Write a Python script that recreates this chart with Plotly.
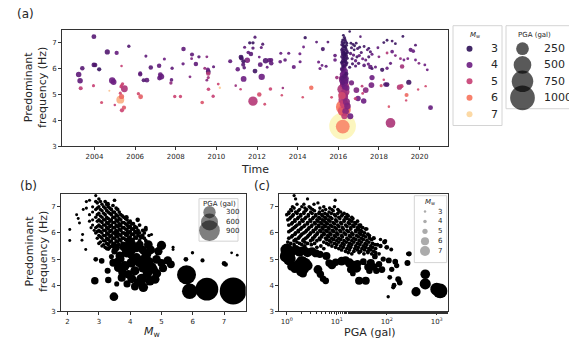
import numpy as np
import plotly.graph_objects as go

W, H = 569, 345

# ---------------- Panel (a): (time, frequency Hz, Mw, PGA gal) ----------------
a_before_2016 = [
    (2003.22, 5.77, 3.8, 40), (2003.29, 5.53, 3.8, 40), (2003.32, 5.24, 4.9, 20), (2003.40, 6.01, 3.7, 25),
    (2003.95, 5.34, 5.0, 10), (2003.97, 7.23, 3.7, 30), (2003.97, 6.14, 3.6, 30), (2004.03, 6.14, 3.5, 25),
    (2004.23, 5.97, 3.2, 22), (2004.35, 4.69, 5.2, 10), (2004.63, 6.64, 3.6, 35), (2004.73, 5.14, 6.8, 3),
    (2004.87, 5.54, 4.0, 55), (2004.94, 5.48, 4.0, 45), (2005.00, 4.59, 5.0, 6), (2005.09, 6.60, 3.9, 22),
    (2005.27, 5.05, 5.2, 10), (2005.27, 4.80, 6.6, 90), (2005.30, 5.30, 5.0, 10), (2005.33, 6.10, 5.0, 6),
    (2005.33, 4.92, 5.8, 35), (2005.33, 5.35, 5.1, 8), (2005.35, 4.39, 5.1, 22), (2005.38, 5.41, 5.1, 12),
    (2005.45, 4.49, 5.5, 22), (2005.47, 5.22, 4.7, 65), (2005.69, 6.86, 3.6, 12), (2006.16, 5.03, 5.2, 12),
    (2006.25, 5.77, 3.7, 22), (2006.25, 5.82, 3.8, 18), (2006.27, 4.91, 5.6, 30), (2006.42, 5.55, 3.6, 20),
    (2006.53, 6.48, 3.8, 10), (2006.58, 5.55, 3.8, 28), (2006.77, 6.04, 3.7, 25), (2007.18, 6.11, 3.8, 25),
    (2007.24, 5.76, 3.9, 30), (2007.29, 5.69, 3.9, 45), (2007.20, 5.63, 3.9, 30), (2007.44, 6.37, 4.0, 10),
    (2007.76, 5.44, 4.4, 12), (2007.79, 5.56, 3.8, 15), (2007.82, 6.01, 3.8, 12), (2007.95, 4.92, 5.1, 12),
    (2008.23, 4.92, 5.1, 12), (2008.36, 6.18, 3.9, 12), (2008.38, 6.75, 3.8, 25), (2008.70, 5.68, 4.2, 8),
    (2008.80, 6.54, 3.8, 20), (2008.78, 6.38, 4.2, 8), (2008.99, 6.17, 3.8, 25), (2009.14, 6.45, 3.7, 12),
    (2009.30, 4.69, 5.4, 15), (2009.43, 6.01, 4.5, 10), (2009.53, 6.45, 4.3, 8), (2009.53, 5.55, 4.3, 8),
    (2009.58, 5.96, 4.0, 20), (2009.60, 5.88, 3.2, 30), (2009.60, 5.81, 4.8, 25), (2009.60, 5.65, 4.6, 10),
    (2009.61, 5.20, 5.0, 15), (2009.84, 4.93, 5.0, 12), (2009.86, 6.07, 3.8, 10), (2010.09, 5.40, 5.1, 8),
    (2010.17, 5.26, 6.9, 5), (2010.68, 6.28, 3.8, 20), (2010.95, 5.34, 4.5, 6), (2011.05, 5.97, 3.9, 25),
    (2011.19, 5.20, 5.0, 6), (2011.21, 6.44, 3.3, 30), (2011.23, 6.40, 3.3, 25), (2011.32, 6.15, 3.7, 20),
    (2011.33, 6.28, 3.3, 22), (2011.34, 5.60, 4.0, 45), (2011.37, 6.03, 3.7, 15), (2011.39, 6.82, 3.8, 10),
    (2011.52, 6.32, 4.2, 40), (2011.57, 6.62, 3.8, 15), (2011.64, 6.99, 3.2, 12), (2011.70, 6.56, 3.7, 25),
    (2011.80, 6.99, 3.2, 12), (2011.80, 6.79, 3.7, 12), (2011.80, 4.74, 4.8, 130), (2011.90, 7.21, 3.6, 10),
    (2011.90, 5.90, 3.3, 30), (2012.11, 6.44, 4.0, 8), (2012.11, 5.00, 5.3, 25), (2012.16, 6.15, 3.8, 30),
    (2012.21, 6.81, 3.8, 10), (2012.23, 5.68, 4.0, 55), (2012.28, 6.94, 3.5, 10), (2012.38, 4.62, 5.2, 8),
    (2012.42, 6.30, 3.6, 40), (2012.50, 6.05, 3.9, 8), (2012.60, 6.32, 3.8, 25), (2012.66, 5.21, 5.1, 15),
    (2012.70, 6.33, 3.8, 20), (2012.70, 6.20, 3.8, 25), (2013.14, 6.26, 3.9, 15), (2013.17, 6.59, 3.9, 10),
    (2013.22, 4.97, 5.2, 6), (2013.27, 5.25, 4.5, 6), (2013.38, 6.33, 3.8, 15), (2013.56, 6.59, 3.9, 10),
    (2013.81, 6.06, 3.9, 20), (2014.11, 6.57, 4.0, 10), (2014.12, 6.26, 3.9, 10), (2014.25, 4.89, 5.3, 6),
    (2014.29, 6.83, 4.0, 8), (2014.37, 7.19, 3.2, 12), (2014.67, 5.26, 5.9, 25), (2014.93, 7.02, 3.7, 8),
    (2015.03, 6.25, 4.0, 10), (2015.10, 6.00, 4.0, 10), (2015.20, 6.12, 3.9, 8), (2015.24, 6.75, 3.4, 20),
    (2015.49, 7.02, 3.7, 8), (2015.40, 6.09, 3.8, 10), (2015.67, 4.89, 5.2, 8), (2015.84, 6.50, 3.8, 15),
    (2015.84, 6.33, 3.9, 15), (2015.93, 5.65, 4.5, 15),
]

a_cluster_2016 = [
    (2016.56, 7.43, 3.1, 6), (2016.30, 7.20, 3.2, 10), (2016.22, 7.10, 3.1, 10), (2016.35, 7.05, 3.2, 12),
    (2016.27, 6.98, 3.0, 10), (2016.18, 6.92, 3.3, 12), (2016.40, 6.90, 3.1, 10), (2016.30, 6.85, 3.2, 14),
    (2016.22, 6.78, 3.3, 12), (2016.38, 6.75, 3.1, 10), (2016.28, 6.70, 3.2, 14), (2016.20, 6.64, 3.4, 14),
    (2016.45, 6.62, 3.1, 10), (2016.33, 6.58, 3.3, 15), (2016.25, 6.52, 3.2, 14), (2016.40, 6.48, 3.4, 12),
    (2016.18, 6.45, 3.3, 14), (2016.30, 6.40, 3.5, 16), (2016.36, 6.34, 3.3, 14), (2016.22, 6.30, 3.4, 16),
    (2016.28, 6.25, 3.6, 18), (2016.42, 6.22, 3.2, 12), (2016.20, 6.18, 3.5, 16), (2016.32, 6.12, 3.6, 18),
    (2016.26, 6.06, 3.7, 20), (2016.25, 7.28, 3.0, 8), (2016.33, 7.12, 3.1, 8), (2016.19, 7.02, 3.2, 10),
    (2016.42, 6.98, 3.0, 8), (2016.24, 6.88, 3.1, 12), (2016.35, 6.82, 3.0, 10), (2016.17, 6.72, 3.2, 12),
    (2016.42, 6.68, 3.3, 12), (2016.27, 6.62, 3.1, 12), (2016.38, 6.55, 3.0, 10), (2016.21, 6.56, 3.2, 12),
    (2016.31, 6.47, 3.1, 12), (2016.24, 6.38, 3.2, 14), (2016.44, 6.40, 3.1, 10), (2016.34, 6.27, 3.2, 14),
    (2016.17, 6.24, 3.1, 12), (2016.38, 6.15, 3.3, 14), (2016.23, 6.10, 3.2, 14),
    (2016.30, 6.00, 3.8, 25), (2016.22, 5.94, 3.7, 30), (2016.36, 5.90, 3.9, 30), (2016.27, 5.84, 3.8, 35),
    (2016.20, 5.78, 4.0, 35), (2016.33, 5.74, 3.9, 40), (2016.25, 5.68, 4.0, 45), (2016.40, 5.62, 3.8, 30),
    (2016.28, 5.58, 4.1, 50), (2016.20, 5.52, 4.0, 45), (2016.35, 5.46, 4.1, 40), (2016.25, 5.40, 4.2, 55),
    (2016.32, 5.30, 4.0, 45), (2016.42, 5.25, 4.1, 40), (2016.18, 5.98, 3.5, 20), (2016.40, 5.80, 3.4, 20),
    (2016.30, 5.70, 3.6, 25), (2016.18, 5.62, 3.7, 30), (2016.38, 5.52, 3.9, 35), (2016.22, 5.45, 3.8, 30),
    (2016.22, 5.60, 4.6, 90), (2016.30, 5.35, 4.8, 120), (2016.20, 5.20, 4.7, 150), (2016.35, 5.10, 4.6, 100),
    (2016.25, 5.00, 4.9, 130), (2016.30, 4.90, 4.5, 80), (2016.22, 4.80, 4.8, 110), (2016.40, 4.72, 4.3, 70),
    (2016.28, 4.62, 5.0, 100), (2016.36, 4.35, 4.3, 60), (2016.30, 4.16, 4.9, 50), (2016.59, 4.16, 4.0, 50),
    (2016.45, 4.55, 4.2, 60), (2016.18, 4.95, 5.2, 80),
    (2016.24, 4.52, 6.0, 330), (2016.30, 4.40, 5.9, 250), (2016.20, 4.35, 5.5, 120),
    (2016.21, 3.78, 7.3, 1170), (2016.22, 3.76, 6.2, 300),
]

a_after_2016 = [
    (2016.62, 6.98, 3.1, 8), (2016.72, 6.93, 3.2, 8), (2016.80, 6.88, 3.0, 8), (2016.88, 6.98, 3.2, 8),
    (2016.65, 6.80, 3.3, 10), (2016.78, 6.72, 3.1, 8), (2016.95, 6.77, 3.4, 10), (2017.05, 6.82, 3.2, 8),
    (2017.13, 6.62, 3.5, 10), (2016.60, 6.58, 3.6, 12), (2016.75, 6.52, 3.8, 12), (2016.92, 6.45, 3.3, 10),
    (2017.03, 6.50, 3.9, 12), (2016.68, 6.38, 3.5, 10), (2016.85, 6.30, 3.8, 12), (2017.20, 6.38, 4.0, 10),
    (2017.35, 6.33, 3.8, 10), (2017.50, 6.45, 3.4, 10), (2017.58, 6.65, 3.6, 10), (2017.66, 6.55, 3.9, 10),
    (2017.50, 6.78, 3.2, 8), (2017.27, 6.85, 3.3, 8), (2017.43, 6.72, 3.7, 8), (2017.00, 6.20, 3.5, 12),
    (2017.27, 6.12, 3.7, 15), (2017.48, 6.17, 3.9, 12), (2017.58, 6.06, 3.8, 25), (2017.66, 6.00, 3.4, 10),
    (2016.85, 6.10, 3.6, 10), (2016.70, 6.18, 3.3, 10), (2016.56, 6.05, 3.2, 10), (2017.09, 7.23, 3.6, 6),
    (2016.89, 5.17, 4.2, 45), (2016.97, 4.84, 4.0, 40), (2017.25, 4.75, 4.0, 40), (2017.35, 5.17, 4.3, 45),
    (2017.63, 5.36, 4.1, 45), (2017.66, 5.65, 4.0, 35), (2017.20, 5.04, 5.0, 8), (2017.17, 5.32, 4.9, 8),
    (2016.84, 4.84, 5.0, 12), (2016.65, 5.45, 4.1, 35), (2017.83, 6.06, 3.9, 10),
    (2018.24, 7.00, 3.2, 8), (2018.40, 7.09, 3.2, 8), (2018.65, 7.06, 3.4, 8), (2018.81, 6.96, 3.2, 8),
    (2019.18, 7.24, 3.2, 8), (2018.65, 6.65, 3.9, 15), (2018.40, 6.60, 4.8, 8), (2018.81, 6.50, 4.2, 8),
    (2019.06, 6.38, 4.4, 8), (2019.23, 6.33, 4.0, 8), (2019.42, 6.38, 4.1, 8), (2019.56, 6.72, 3.8, 20),
    (2019.69, 6.67, 3.9, 15), (2019.80, 6.33, 4.0, 8), (2019.97, 6.20, 4.2, 8), (2020.26, 6.14, 4.0, 8),
    (2020.38, 5.95, 4.0, 8), (2019.14, 6.08, 4.6, 25), (2018.57, 6.20, 3.8, 10), (2018.40, 6.01, 3.9, 12),
    (2018.16, 5.95, 3.3, 22), (2018.24, 5.57, 5.1, 6), (2018.32, 5.38, 3.6, 25), (2018.40, 5.38, 3.4, 30),
    (2019.01, 5.28, 4.8, 35), (2019.11, 5.32, 5.0, 20), (2019.47, 5.47, 3.3, 35), (2019.36, 4.98, 5.8, 20),
    (2018.11, 5.34, 5.3, 10), (2018.49, 4.53, 5.4, 6), (2019.34, 4.77, 5.2, 5), (2019.93, 5.19, 5.2, 5),
    (2020.30, 5.32, 5.2, 5), (2020.54, 4.49, 3.9, 30), (2018.57, 3.90, 4.7, 140), (2017.95, 6.80, 3.8, 8),
    (2018.00, 6.45, 4.2, 8), (2019.80, 6.90, 3.6, 8),
]

# ---------------- Panel (b): (Mw, frequency Hz, PGA gal) ----------------
b_small = [
    (2.07, 6.13, 10), (2.07, 5.71, 10), (2.29, 6.70, 10), (2.34, 6.55, 10), (2.38, 6.38, 10), (2.48, 5.94, 10),
    (2.46, 5.72, 10), (2.58, 5.37, 10), (2.50, 6.90, 10), (2.60, 7.20, 12), (2.60, 6.95, 12), (2.70, 7.25, 12),
    (2.70, 6.70, 12), (2.70, 6.45, 12), (2.75, 6.20, 12), (2.80, 7.00, 12), (2.80, 6.80, 12), (2.80, 6.50, 12),
    (2.80, 6.30, 12), (2.85, 6.10, 12), (2.90, 7.43, 12), (2.90, 7.20, 16), (2.90, 6.90, 16), (2.90, 6.60, 16),
    (2.90, 6.20, 16), (2.90, 6.00, 16), (2.95, 5.80, 16), (3.00, 7.30, 16), (3.00, 7.00, 16), (3.00, 6.75, 16),
    (3.00, 6.50, 16), (3.00, 6.30, 16), (3.00, 6.10, 16), (3.00, 5.90, 16), (3.00, 5.60, 16), (3.10, 7.10, 16),
    (3.10, 6.85, 16), (3.10, 6.60, 16), (3.10, 6.40, 16), (3.10, 6.20, 16), (3.10, 6.00, 16), (3.10, 5.80, 16),
    (3.10, 5.50, 16), (3.20, 7.20, 18), (3.20, 6.95, 18), (3.20, 6.70, 18), (3.20, 6.50, 18), (3.20, 6.30, 18),
    (3.20, 6.10, 18), (3.20, 5.90, 18), (3.20, 5.70, 18), (3.20, 5.45, 18), (3.30, 7.00, 18), (3.30, 6.80, 18),
    (3.30, 6.55, 18), (3.30, 6.35, 18), (3.30, 6.15, 18), (3.30, 5.95, 18), (3.30, 5.75, 18), (3.30, 5.55, 18),
    (3.40, 6.90, 18), (3.40, 6.70, 18), (3.40, 6.50, 18), (3.40, 6.30, 18), (3.40, 6.10, 18), (3.40, 5.90, 18),
    (3.40, 5.70, 18), (3.40, 5.50, 18), (3.50, 7.25, 18), (3.50, 6.80, 18), (3.50, 6.60, 18), (3.50, 6.40, 18),
    (3.50, 6.20, 18), (3.50, 6.00, 18), (3.50, 5.80, 18), (3.50, 5.60, 18), (3.60, 6.90, 18), (3.60, 6.65, 18),
    (3.60, 6.45, 18), (3.60, 6.25, 18), (3.60, 6.05, 18), (3.60, 5.85, 18), (3.60, 5.65, 18), (3.70, 6.70, 18),
    (3.70, 6.50, 18), (3.70, 6.30, 18), (3.70, 6.10, 18), (3.70, 5.90, 18), (3.70, 5.70, 18), (3.80, 6.60, 18),
    (3.80, 6.40, 18), (3.80, 6.20, 18), (3.80, 6.00, 18), (3.80, 5.80, 18), (3.80, 5.60, 18), (3.90, 6.50, 18),
    (3.90, 6.30, 18), (3.90, 6.10, 18), (3.90, 5.90, 18), (3.90, 5.70, 18), (4.00, 6.45, 20), (4.00, 6.25, 20),
    (4.00, 6.05, 20), (4.00, 5.85, 20), (4.10, 6.35, 20), (4.10, 6.15, 20), (4.10, 5.95, 20), (4.10, 5.75, 20),
    (4.20, 6.20, 20), (4.20, 6.00, 20), (4.20, 5.80, 20), (4.30, 6.30, 20), (4.30, 6.00, 20), (4.30, 5.70, 20),
    (4.40, 6.10, 20), (4.40, 5.90, 20), (4.50, 6.20, 20), (4.50, 5.70, 20), (4.60, 5.90, 16), (4.68, 5.94, 12),
    (5.37, 5.37, 10), (5.37, 5.45, 10), (5.99, 5.24, 14), (7.24, 5.24, 8), (7.42, 5.15, 8),
    (3.28, 7.10, 35), (3.54, 6.00, 40), (3.88, 5.95, 40), (4.49, 6.13, 30), (4.24, 6.50, 30), (3.88, 6.60, 30),
    (3.67, 6.30, 35), (4.10, 5.60, 45), (3.75, 5.45, 40), (3.45, 5.50, 30), (4.35, 5.85, 40), (3.95, 6.25, 30),
]

b_small_between = [
    (2.95, 7.15, 16), (2.95, 6.95, 16), (2.95, 6.70, 16), (2.95, 6.45, 16), (2.95, 6.25, 16), (2.95, 6.05, 16),
    (3.05, 7.20, 16), (3.05, 6.90, 16), (3.05, 6.65, 16), (3.05, 6.45, 16), (3.05, 6.25, 16), (3.05, 6.05, 16),
    (3.05, 5.85, 16), (3.05, 5.65, 16), (3.15, 7.00, 16), (3.15, 6.75, 16), (3.15, 6.50, 16), (3.15, 6.30, 16),
    (3.15, 6.10, 16), (3.15, 5.90, 16), (3.15, 5.70, 16), (3.15, 5.55, 16), (3.25, 7.10, 18), (3.25, 6.85, 18),
    (3.25, 6.60, 18), (3.25, 6.40, 18), (3.25, 6.20, 18), (3.25, 6.00, 18), (3.25, 5.80, 18), (3.25, 5.60, 18),
    (3.25, 5.40, 18), (3.35, 6.95, 18), (3.35, 6.75, 18), (3.35, 6.45, 18), (3.35, 6.25, 18), (3.35, 6.05, 18),
    (3.35, 5.85, 18), (3.35, 5.65, 18), (3.35, 5.45, 18), (3.45, 7.05, 18), (3.45, 6.80, 18), (3.45, 6.60, 18),
    (3.45, 6.40, 18), (3.45, 6.20, 18), (3.45, 6.00, 18), (3.45, 5.80, 18), (3.45, 5.60, 18), (3.55, 6.95, 18),
    (3.55, 6.70, 18), (3.55, 6.50, 18), (3.55, 6.30, 18), (3.55, 6.10, 18), (3.55, 5.90, 18), (3.55, 5.70, 18),
    (3.55, 5.50, 18), (3.65, 6.80, 18), (3.65, 6.55, 18), (3.65, 6.35, 18), (3.65, 6.15, 18), (3.65, 5.95, 18),
    (3.65, 5.75, 18), (3.65, 5.55, 18), (3.75, 6.65, 18), (3.75, 6.40, 18), (3.75, 6.20, 18), (3.75, 6.00, 18),
    (3.75, 5.80, 18), (3.75, 5.60, 18), (3.85, 6.55, 18), (3.85, 6.35, 18), (3.85, 6.15, 18), (3.85, 5.95, 18),
    (3.85, 5.75, 18), (3.85, 5.55, 18), (3.95, 6.40, 18), (3.95, 6.20, 18), (3.95, 6.00, 18), (3.95, 5.80, 18),
    (3.95, 5.60, 18), (4.05, 6.35, 20), (4.05, 6.15, 20), (4.05, 5.95, 20), (4.05, 5.75, 20), (4.15, 6.25, 20),
    (4.15, 6.05, 20), (4.15, 5.85, 20), (4.25, 6.10, 20), (4.25, 5.90, 20), (4.45, 6.00, 20), (4.45, 5.80, 20),
]

b_large = [
    (2.90, 4.99, 35), (3.09, 4.93, 50), (2.87, 4.17, 100), (3.28, 4.55, 60), (3.48, 3.56, 140),
    (3.99, 5.62, 170), (4.20, 5.43, 150), (3.88, 5.24, 160), (3.67, 5.12, 140), (3.46, 4.86, 110),
    (3.62, 4.67, 140), (3.83, 4.74, 170), (4.04, 4.86, 180), (4.15, 4.55, 160), (4.42, 4.67, 190),
    (4.52, 5.18, 180), (4.58, 5.55, 140), (4.36, 4.23, 220), (4.42, 3.92, 170), (4.63, 4.17, 170),
    (3.73, 4.29, 120), (3.57, 4.05, 40), (3.94, 4.42, 140), (4.20, 5.05, 170), (4.30, 4.86, 170),
    (5.00, 5.52, 160), (4.84, 4.99, 140), (4.79, 4.23, 160), (5.00, 4.85, 120), (5.20, 4.95, 130),
    (5.30, 4.80, 110), (4.70, 4.70, 150), (4.75, 4.60, 140), (3.70, 5.00, 100), (3.50, 5.30, 70),
    (4.00, 5.20, 140), (4.10, 4.95, 150), (3.90, 5.50, 90), (4.40, 5.35, 130), (4.60, 4.90, 160),
    (3.30, 5.40, 30), (3.40, 5.10, 40), (5.78, 4.99, 35), (6.31, 4.95, 25), (7.00, 4.83, 35),
    (7.05, 4.79, 30), (5.80, 4.40, 750), (5.90, 3.77, 480), (6.45, 3.85, 1100), (7.29, 3.78, 1550),
    (3.55, 5.45, 110), (3.80, 5.45, 120), (4.05, 5.35, 150), (4.30, 5.55, 120), (4.45, 5.00, 170),
    (3.60, 4.90, 130), (3.75, 4.50, 120), (4.05, 4.25, 150), (4.25, 4.10, 130), (3.90, 4.05, 90),
    (4.55, 4.45, 170), (4.65, 5.35, 150), (4.90, 5.30, 130), (3.30, 4.20, 70), (4.15, 3.95, 110),
    (4.85, 4.45, 140), (5.05, 4.65, 120),
]

# ---------------- Panel (c): (PGA gal, frequency Hz, Mw) ----------------
c_small = [
    (1.5, 7.3, 3.8), (2.6, 7.3, 3.8), (1.4, 7.43, 3.8), (1.6, 7.1, 3.9), (2.2, 7.1, 3.9), (3.5, 7.1, 3.9),
    (4.2, 7.15, 3.9), (9.3, 7.25, 3.8), (1.3, 7.0, 4.0), (2.0, 7.0, 4.0), (2.8, 7.0, 4.0), (5.5, 7.0, 4.0),
    (9.0, 7.0, 4.0), (1.2, 6.9, 4.0), (1.8, 6.9, 4.0), (2.5, 6.9, 4.0), (3.3, 6.9, 4.0), (6.0, 6.9, 4.0),
    (8.0, 6.9, 4.0), (10.5, 6.9, 4.0), (1.1, 6.8, 4.0), (1.5, 6.8, 4.0), (2.2, 6.8, 4.0), (3.0, 6.8, 4.0),
    (4.5, 6.8, 4.0), (7.0, 6.8, 4.0), (12, 6.8, 4.0), (1.0, 6.7, 4.1), (1.35, 6.7, 4.1), (1.9, 6.7, 4.1),
    (2.7, 6.7, 4.1), (3.8, 6.7, 4.1), (5.0, 6.7, 4.1), (6.5, 6.7, 4.1), (9.0, 6.7, 4.1), (13, 6.7, 4.1),
    (16, 6.7, 4.1), (1.2, 6.6, 4.1), (1.7, 6.6, 4.1), (2.4, 6.6, 4.1), (3.4, 6.6, 4.1), (4.4, 6.6, 4.1),
    (5.8, 6.6, 4.1), (7.5, 6.6, 4.1), (11, 6.6, 4.1), (15, 6.6, 4.1), (20, 6.6, 4.1), (1.05, 6.5, 4.1),
    (1.45, 6.5, 4.1), (2.0, 6.5, 4.1), (2.9, 6.5, 4.1), (4.0, 6.5, 4.1), (5.2, 6.5, 4.1), (6.8, 6.5, 4.1),
    (9.5, 6.5, 4.1), (14, 6.5, 4.1), (18, 6.5, 4.1), (1.3, 6.4, 4.1), (1.8, 6.4, 4.1), (2.6, 6.4, 4.1),
    (3.6, 6.4, 4.1), (4.8, 6.4, 4.1), (6.2, 6.4, 4.1), (8.5, 6.4, 4.1), (12, 6.4, 4.1), (17, 6.4, 4.1),
    (23, 6.4, 4.1), (1.1, 6.3, 4.2), (1.6, 6.3, 4.2), (2.3, 6.3, 4.2), (3.2, 6.3, 4.2), (4.3, 6.3, 4.2),
    (5.6, 6.3, 4.2), (7.5, 6.3, 4.2), (10.5, 6.3, 4.2), (15, 6.3, 4.2), (21, 6.3, 4.2), (28, 6.3, 4.2),
    (1.4, 6.2, 4.2), (2.0, 6.2, 4.2), (2.8, 6.2, 4.2), (3.9, 6.2, 4.2), (5.1, 6.2, 4.2), (6.8, 6.2, 4.2),
    (9.2, 6.2, 4.2), (13, 6.2, 4.2), (19, 6.2, 4.2), (26, 6.2, 4.2), (33, 6.2, 4.2), (1.2, 6.1, 4.2),
    (1.7, 6.1, 4.2), (2.5, 6.1, 4.2), (3.4, 6.1, 4.2), (4.6, 6.1, 4.2), (6.1, 6.1, 4.2), (8.2, 6.1, 4.2),
    (11.5, 6.1, 4.2), (16, 6.1, 4.2), (24, 6.1, 4.2), (30, 6.1, 4.2), (1.5, 6.0, 4.2), (2.2, 6.0, 4.2),
    (3.0, 6.0, 4.2), (4.1, 6.0, 4.2), (5.5, 6.0, 4.2), (7.3, 6.0, 4.2), (10, 6.0, 4.2), (14, 6.0, 4.2),
    (20, 6.0, 4.2), (28, 6.0, 4.2), (36, 6.0, 4.2), (1.3, 5.9, 4.2), (1.9, 5.9, 4.2), (2.7, 5.9, 4.2),
    (3.7, 5.9, 4.2), (5.0, 5.9, 4.2), (6.6, 5.9, 4.2), (9.0, 5.9, 4.2), (12.5, 5.9, 4.2), (18, 5.9, 4.2),
    (25, 5.9, 4.2), (34, 5.9, 4.2), (1.1, 5.8, 4.2), (1.7, 5.8, 4.2), (2.4, 5.8, 4.2), (3.3, 5.8, 4.2),
    (4.5, 5.8, 4.2), (6.0, 5.8, 4.2), (8.0, 5.8, 4.2), (11, 5.8, 4.2), (16, 5.8, 4.2), (22, 5.8, 4.2),
    (31, 5.8, 4.2), (45, 5.8, 4.2), (1.4, 5.7, 4.2), (2.1, 5.7, 4.2), (3.0, 5.7, 4.2), (4.0, 5.7, 4.2),
    (7.2, 5.7, 4.2), (10, 5.7, 4.2), (14, 5.7, 4.2), (20, 5.7, 4.2), (28, 5.7, 4.2), (40, 5.7, 4.2),
    (1.2, 5.6, 4.2), (1.8, 5.6, 4.2), (2.6, 5.6, 4.2), (3.6, 5.6, 4.2), (6.3, 5.6, 4.2), (9.0, 5.6, 4.2),
    (13, 5.6, 4.2), (18, 5.6, 4.2), (26, 5.6, 4.2), (37, 5.6, 4.2), (52, 5.6, 4.2), (2.3, 5.5, 4.2),
    (4.8, 5.5, 4.2), (8.0, 5.5, 4.2), (12, 5.5, 4.2), (17, 5.5, 4.2), (24, 5.5, 4.2), (34, 5.5, 4.2),
    (48, 5.5, 4.2), (5.5, 5.4, 4.2), (11, 5.4, 4.2), (16, 5.4, 4.2), (23, 5.4, 4.2), (32, 5.4, 4.2),
    (44, 5.4, 4.2), (60, 5.4, 4.2), (15, 5.3, 4.2), (22, 5.3, 4.2), (30, 5.3, 4.2), (42, 5.3, 4.2),
    (55, 5.3, 4.2), (20, 5.2, 4.2), (35, 5.2, 4.2), (50, 5.2, 4.2), (70, 5.2, 4.2), (27, 6.13, 4.5),
    (93, 5.69, 4.5), (123, 5.37, 4.3), (263, 5.2, 4.0), (251, 4.86, 4.2), (107, 3.56, 3.9), (135, 3.92, 4.5),
    (40, 6.15, 4.0), (45, 5.9, 4.2), (55, 5.8, 4.5), (65, 5.55, 4.3), (30, 6.3, 4.0), (75, 5.75, 4.0),
]

c_small_between = [
    (1.4, 6.95, 4.0), (2.3, 6.95, 4.0), (3.0, 6.95, 4.0), (4.6, 6.95, 4.0), (7.2, 6.95, 4.0),
    (1.25, 6.85, 4.0), (1.7, 6.85, 4.0), (2.4, 6.85, 4.0), (3.6, 6.85, 4.0), (5.2, 6.85, 4.0), (8.5, 6.85, 4.0),
    (11, 6.85, 4.0), (1.1, 6.75, 4.1), (1.6, 6.75, 4.1), (2.2, 6.75, 4.1), (3.2, 6.75, 4.1), (4.4, 6.75, 4.1),
    (5.8, 6.75, 4.1), (7.8, 6.75, 4.1), (10.5, 6.75, 4.1), (14, 6.75, 4.1), (1.3, 6.65, 4.1), (1.9, 6.65, 4.1),
    (2.7, 6.65, 4.1), (3.8, 6.65, 4.1), (5.2, 6.65, 4.1), (6.7, 6.65, 4.1), (9.5, 6.65, 4.1), (12.5, 6.65, 4.1),
    (17, 6.65, 4.1), (1.15, 6.55, 4.1), (1.65, 6.55, 4.1), (2.3, 6.55, 4.1), (3.3, 6.55, 4.1), (4.6, 6.55, 4.1),
    (6.0, 6.55, 4.1), (8.0, 6.55, 4.1), (11.5, 6.55, 4.1), (16, 6.55, 4.1), (21, 6.55, 4.1), (1.45, 6.45, 4.2),
    (2.1, 6.45, 4.2), (3.0, 6.45, 4.2), (4.2, 6.45, 4.2), (5.6, 6.45, 4.2), (7.3, 6.45, 4.2), (10, 6.45, 4.2),
    (14, 6.45, 4.2), (20, 6.45, 4.2), (26, 6.45, 4.2), (1.25, 6.35, 4.2), (1.8, 6.35, 4.2), (2.6, 6.35, 4.2),
    (3.7, 6.35, 4.2), (5.0, 6.35, 4.2), (6.5, 6.35, 4.2), (9.0, 6.35, 4.2), (12.5, 6.35, 4.2), (18, 6.35, 4.2),
    (24, 6.35, 4.2), (1.5, 6.25, 4.2), (2.2, 6.25, 4.2), (3.1, 6.25, 4.2), (4.4, 6.25, 4.2), (5.9, 6.25, 4.2),
    (8.0, 6.25, 4.2), (11, 6.25, 4.2), (16, 6.25, 4.2), (22, 6.25, 4.2), (30, 6.25, 4.2), (1.3, 6.15, 4.2),
    (1.9, 6.15, 4.2), (2.7, 6.15, 4.2), (3.8, 6.15, 4.2), (5.3, 6.15, 4.2), (7.0, 6.15, 4.2), (9.8, 6.15, 4.2),
    (13.5, 6.15, 4.2), (19, 6.15, 4.2), (27, 6.15, 4.2), (38, 6.15, 4.2), (1.1, 6.05, 4.2), (1.7, 6.05, 4.2),
    (2.4, 6.05, 4.2), (3.4, 6.05, 4.2), (4.8, 6.05, 4.2), (6.4, 6.05, 4.2), (8.7, 6.05, 4.2), (12, 6.05, 4.2),
    (17, 6.05, 4.2), (24, 6.05, 4.2), (32, 6.05, 4.2), (1.45, 5.95, 4.2), (2.0, 5.95, 4.2), (2.9, 5.95, 4.2),
    (4.0, 5.95, 4.2), (5.6, 5.95, 4.2), (7.6, 5.95, 4.2), (10.5, 5.95, 4.2), (15, 5.95, 4.2), (21, 5.95, 4.2),
    (30, 5.95, 4.2), (42, 5.95, 4.2), (1.25, 5.85, 4.2), (1.8, 5.85, 4.2), (2.6, 5.85, 4.2), (3.6, 5.85, 4.2),
    (5.0, 5.85, 4.2), (6.9, 5.85, 4.2), (9.5, 5.85, 4.2), (13, 5.85, 4.2), (19, 5.85, 4.2), (27, 5.85, 4.2),
    (38, 5.85, 4.2), (1.5, 5.75, 4.2), (2.2, 5.75, 4.2), (3.3, 5.75, 4.2), (4.6, 5.75, 4.2), (6.3, 5.75, 4.2),
    (8.6, 5.75, 4.2), (12, 5.75, 4.2), (17, 5.75, 4.2), (24, 5.75, 4.2), (34, 5.75, 4.2), (50, 5.75, 4.2),
    (1.05, 5.65, 4.2), (1.6, 5.65, 4.2), (2.3, 5.65, 4.2), (5.5, 5.65, 4.2), (7.7, 5.65, 4.2), (11, 5.65, 4.2),
    (15.5, 5.65, 4.2), (22, 5.65, 4.2), (31, 5.65, 4.2), (44, 5.65, 4.2), (1.4, 5.55, 4.2), (2.0, 5.55, 4.2),
    (3.1, 5.55, 4.2), (6.9, 5.55, 4.2), (10, 5.55, 4.2), (14, 5.55, 4.2), (20, 5.55, 4.2), (29, 5.55, 4.2),
    (40, 5.55, 4.2), (58, 5.55, 4.2), (4.0, 5.45, 4.2), (9.5, 5.45, 4.2), (13.5, 5.45, 4.2), (19, 5.45, 4.2),
    (27, 5.45, 4.2), (38, 5.45, 4.2), (52, 5.45, 4.2), (12.5, 5.35, 4.2), (18, 5.35, 4.2), (26, 5.35, 4.2),
    (36, 5.35, 4.2), (48, 5.35, 4.2), (17, 5.25, 4.2), (28, 5.25, 4.2), (42, 5.25, 4.2), (60, 5.25, 4.2),
]

c_large = [
    (1.05, 5.2, 7.3), (1.0, 5.35, 7.0), (1.12, 5.0, 7.0), (0.95, 5.1, 6.8), (1.5, 5.35, 6.4), (1.8, 5.28, 6.5),
    (2.2, 5.33, 6.2), (2.6, 5.25, 6.3), (3.2, 5.3, 6.0), (3.8, 5.22, 6.0), (4.6, 5.18, 5.8), (6.2, 5.12, 6.0),
    (1.25, 4.72, 6.2), (1.45, 4.62, 6.0), (1.7, 4.8, 6.4), (2.0, 4.9, 6.8), (2.3, 4.82, 6.9), (2.6, 4.75, 6.5),
    (2.2, 4.62, 6.5), (1.9, 4.52, 6.3), (2.1, 4.45, 6.0), (4.2, 4.6, 6.2), (4.7, 4.42, 5.8), (5.3, 4.25, 5.5),
    (6.0, 4.17, 5.6), (7.0, 4.85, 5.8), (8.0, 4.78, 6.2), (9.5, 4.88, 5.8), (12.5, 4.92, 6.2), (15, 4.95, 6.0),
    (18, 4.85, 6.3), (22, 4.75, 6.4), (25, 4.65, 6.2), (19, 4.6, 5.8), (21, 4.45, 5.2), (26, 4.82, 5.8),
    (28, 4.17, 6.0), (38, 4.17, 6.0), (34, 4.9, 5.6), (42, 4.7, 5.8), (48, 4.85, 6.0), (55, 4.7, 5.8),
    (62, 4.55, 5.5), (45, 4.55, 5.5), (70, 4.8, 5.5), (80, 4.6, 5.6), (58, 5.1, 5.2), (85, 5.0, 5.0),
    (110, 4.95, 5.3), (126, 4.61, 5.0), (148, 4.9, 5.2), (158, 4.75, 5.0), (170, 4.23, 5.3), (182, 4.1, 5.2),
    (260, 4.85, 5.3), (280, 5.2, 5.0), (100, 5.45, 4.8), (90, 5.65, 4.8), (75, 5.5, 4.6), (115, 4.3, 4.8),
    (140, 4.0, 4.8), (386, 3.75, 6.3), (590, 4.42, 6.4), (590, 4.05, 6.7), (1000, 3.85, 7.0), (1170, 3.78, 7.3),
]

# ---------------- Legend entries ----------------
leg_a_mw = [3, 4, 5, 6, 7]
leg_a_pga = [250, 500, 750, 1000]
leg_b_pga = [300, 600, 900]
leg_c_mw = [3, 4, 5, 6, 7]

# marker size mappings (px diameter; small constant imitates the marker edge)
def size_a(pga):
    return 0.76 * np.sqrt(np.asarray(pga, dtype=float)) + 0.7

def size_b(pga):
    return 0.66 * np.sqrt(np.asarray(pga, dtype=float)) + 0.9

def size_c(mw):
    return 1.6 * 1.65 ** (np.asarray(mw, dtype=float) - 3) + 0.9

# colour scale for Mw (magma-like)
CMIN, CMAX = 3.0, 7.3
MW_SCALE = [
    [0.0, "#2d1157"], [0.2326, "#6b1d81"], [0.4651, "#c63e73"],
    [0.6977, "#f7735c"], [0.9302, "#fcd59b"], [1.0, "#fcf5b8"],
]
FONT = "DejaVu Sans"
TXT = "#262626"

fig = go.Figure()

# ---- panel (a)
a_rows = a_before_2016 + a_cluster_2016 + a_after_2016
a_rows = sorted(a_rows, key=lambda r: -r[3])  # big markers underneath
fig.add_trace(go.Scatter(
    x=[r[0] for r in a_rows], y=[r[1] for r in a_rows], mode="markers", xaxis="x", yaxis="y",
    showlegend=False,
    marker=dict(size=size_a([r[3] for r in a_rows]), color=[r[2] for r in a_rows], colorscale=MW_SCALE,
                cmin=CMIN, cmax=CMAX, opacity=0.9, line=dict(width=0)),
))

# ---- panel (b)
b_rows = b_large + b_small + b_small_between
fig.add_trace(go.Scatter(
    x=[r[0] for r in b_rows], y=[r[1] for r in b_rows], mode="markers", xaxis="x2", yaxis="y2",
    showlegend=False,
    marker=dict(size=size_b([r[2] for r in b_rows]), color="black", opacity=1, line=dict(width=0)),
))

# ---- panel (c)
c_rows = c_large + c_small + c_small_between
fig.add_trace(go.Scatter(
    x=[r[0] for r in c_rows], y=[r[1] for r in c_rows], mode="markers", xaxis="x3", yaxis="y3",
    showlegend=False,
    marker=dict(size=size_c([r[2] for r in c_rows]), color="black", opacity=1, line=dict(width=0)),
))

# ---- legends drawn on a pixel overlay axis (x4/y4)
shapes = []
annos = []

def box(x0, y0, x1, y1, fill="white"):
    shapes.append(dict(type="rect", xref="x4", yref="y4", x0=x0, y0=y0, x1=x1, y1=y1,
                       fillcolor=fill, line=dict(color="#d4d4d4", width=1), layer="below"))

def label(x, y, text, size, xanchor="center", color=TXT):
    annos.append(dict(xref="x4", yref="y4", x=x, y=y, text=text, showarrow=False,
                      xanchor=xanchor, yanchor="middle", font=dict(size=size, color=color, family=FONT)))

# (a) Mw legend
box(453, 26, 502, 127)
label(475, 35, "<i>M</i><sub>w</sub>", 7)
ya_mw = [49.3, 65.7, 82.3, 99, 115.7]
fig.add_trace(go.Scatter(x=[469.5] * 5, y=ya_mw, mode="markers", xaxis="x4", yaxis="y4", showlegend=False,
                         cliponaxis=False,
                         marker=dict(size=6, color=leg_a_mw, colorscale=MW_SCALE, cmin=CMIN, cmax=CMAX,
                                     opacity=0.9, line=dict(width=0))))
for v, yy in zip(leg_a_mw, ya_mw):
    label(494, yy, str(v), 11)

# (a) PGA legend
box(506, 26, 580, 110)
label(534, 35, "PGA (gal)", 7)
ya_pga = [49.3, 65.7, 82.3, 99]
fig.add_trace(go.Scatter(x=[522.5] * 4, y=ya_pga, mode="markers", xaxis="x4", yaxis="y4", showlegend=False,
                         cliponaxis=False,
                         marker=dict(size=size_a(leg_a_pga), color="black", opacity=0.65, line=dict(width=0))))
for v, yy in zip(leg_a_pga, ya_pga):
    label(542, yy, str(v), 11, xanchor="left")

# (b) PGA legend
box(199, 201, 238, 244, fill="rgba(255,255,255,0.85)")
label(219.5, 206.5, "PGA (gal)", 7)
yb = [214.7, 224.7, 233.3]
fig.add_trace(go.Scatter(x=[209.5] * 3, y=yb, mode="markers", xaxis="x4", yaxis="y4", showlegend=False,
                         cliponaxis=False,
                         marker=dict(size=size_b(leg_b_pga), color="black", opacity=0.5, line=dict(width=0))))
for v, yy in zip(leg_b_pga, yb):
    label(223.5, yy, str(v), 7, xanchor="left")

# (c) Mw legend
box(414.3, 198, 446.7, 265.7, fill="rgba(255,255,255,0.85)")
label(430, 204, "<i>M</i><sub>w</sub>", 7)
yc = [214, 224, 234, 244, 254]
fig.add_trace(go.Scatter(x=[425] * 5, y=yc, mode="markers", xaxis="x4", yaxis="y4", showlegend=False,
                         cliponaxis=False,
                         marker=dict(size=np.minimum(size_c(leg_c_mw), 10), color="black", opacity=0.33,
                                     line=dict(width=0))))
for v, yy in zip(leg_c_mw, yc):
    label(440, yy, str(v), 7)

# panel labels and axis titles
label(25, 14, "(a)", 12)
label(28, 188, "(b)", 12)
label(262, 188, "(c)", 12)
label(255, 171, "Time", 11)
label(152, 336, "<i>M</i><sub>w</sub>", 11)
label(370, 336, "PGA (gal)", 11)
for yy in (89, 255):
    annos.append(dict(xref="x4", yref="y4", x=36, y=yy, text="Predominant<br>frequency (Hz)",
                      showarrow=False, textangle=-90, xanchor="center", yanchor="middle",
                      font=dict(size=11, color=TXT, family=FONT)))

def xd(px):
    return px / W

def yd(py):
    return 1 - py / H

axis_common = dict(showline=True, mirror=True, linecolor="#333333", linewidth=1, showgrid=False,
                   zeroline=False, ticks="outside", ticklen=3, tickwidth=0.8, tickcolor="#333333",
                   tickfont=dict(size=7, color=TXT, family=FONT))

fig.update_layout(
    width=W, height=H, margin=dict(l=0, r=0, t=0, b=0),
    paper_bgcolor="white", plot_bgcolor="rgba(0,0,0,0)",
    font=dict(family=FONT, color=TXT),
    xaxis=dict(domain=[xd(62), xd(448)], range=[2002.4, 2021.4], anchor="y",
               tickvals=[2004, 2006, 2008, 2010, 2012, 2014, 2016, 2018, 2020], **axis_common),
    yaxis=dict(domain=[yd(148), yd(30)], range=[3, 7.5], anchor="x", tickvals=[3, 4, 5, 6, 7], **axis_common),
    xaxis2=dict(domain=[xd(61), xd(245.7)], range=[1.79, 7.69], anchor="y2",
                tickvals=[2, 3, 4, 5, 6, 7], **axis_common),
    yaxis2=dict(domain=[yd(315), yd(196)], range=[3, 7.5], anchor="x2", tickvals=[3, 4, 5, 6, 7], **axis_common),
    xaxis3=dict(domain=[xd(279.3), xd(447.7)], type="log", range=[-0.15, 3.22], anchor="y3",
                tickvals=[1, 10, 100, 1000],
                ticktext=["10<sup>0</sup>", "10<sup>1</sup>", "10<sup>2</sup>", "10<sup>3</sup>"],
                minor=dict(ticks="outside", ticklen=1.8, tickcolor="#333333", tickwidth=0.6, showgrid=False),
                **axis_common),
    yaxis3=dict(domain=[yd(315), yd(196)], range=[3, 7.5], anchor="x3", tickvals=[3, 4, 5, 6, 7], **axis_common),
    xaxis4=dict(domain=[0, 1], range=[0, W], visible=False, fixedrange=True, anchor="y4"),
    yaxis4=dict(domain=[0, 1], range=[H, 0], visible=False, fixedrange=True, anchor="x4"),
    shapes=shapes, annotations=annos,
)

fig.write_html("out.html", config={"displayModeBar": False},
               post_script="document.body.style.margin='0';")
